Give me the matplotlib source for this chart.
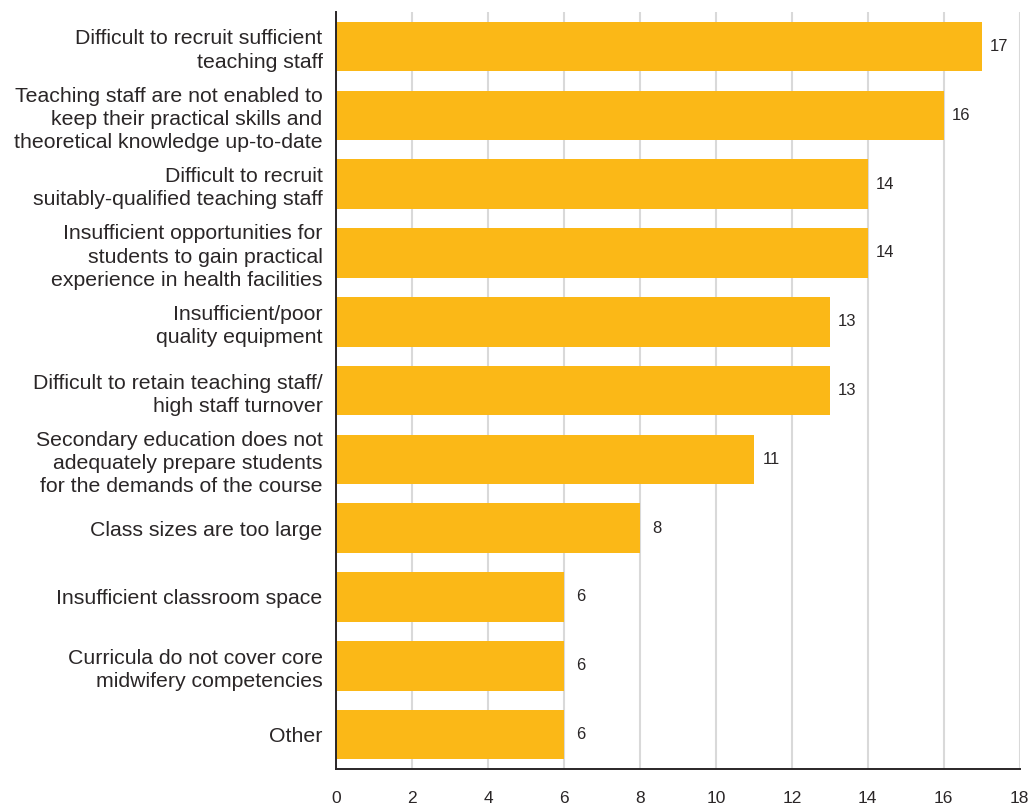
import matplotlib.pyplot as plt
import numpy as np

plt.rcParams['font.family'] = ['Liberation Sans', 'DejaVu Sans']

TEXT = '#2a2627'
BAR = '#fbb817'
GRID = '#d9d9d9'

categories = [
    "Difficult to recruit sufficient\nteaching staff",
    "Teaching staff are not enabled to\nkeep their practical skills and\ntheoretical knowledge up-to-date",
    "Difficult to recruit\nsuitably-qualified teaching staff",
    "Insufficient opportunities for\nstudents to gain practical\nexperience in health facilities",
    "Insufficient/poor\nquality equipment",
    "Difficult to retain teaching staff/\nhigh staff turnover",
    "Secondary education does not\nadequately prepare students\nfor the demands of the course",
    "Class sizes are too large",
    "Insufficient classroom space",
    "Curricula do not cover core\nmidwifery competencies",
    "Other",
]
counts = [17, 16, 14, 14, 13, 13, 11, 8, 6, 6, 6]
x_ticks = list(range(0, 19, 2))

fig = plt.figure(figsize=(10.32, 8.05), dpi=100)
ax = fig.add_axes([0.326, 0.0447, 0.662, 0.9403])

y = np.arange(len(categories))
ax.barh(y, counts, height=0.72, color=BAR, zorder=2)

# value labels centred a little past the end of each bar
for yi, v in zip(y, counts):
    ax.text(v + 0.45, yi, str(v), va='center', ha='center', fontsize=12, color=TEXT)

ax.set_xlim(0, 18)
ax.set_ylim(len(categories) - 0.5, -0.5)
ax.set_xticks(x_ticks)
ax.set_xticklabels([str(t) for t in x_ticks], fontsize=12.5, color=TEXT)
ax.set_yticks(y)
ax.set_yticklabels(categories, fontsize=15.3, color=TEXT, linespacing=1.28)
ax.tick_params(axis='x', length=0, pad=16)
ax.tick_params(axis='y', length=0, pad=10)

ax.grid(axis='x', color=GRID, linewidth=1.5, zorder=0)
ax.set_axisbelow(True)
for side in ['top', 'right']:
    ax.spines[side].set_visible(False)
for side in ['left', 'bottom']:
    ax.spines[side].set_color(TEXT)
    ax.spines[side].set_linewidth(1.4)
    ax.spines[side].set_zorder(3)

fig.savefig('out.png', dpi=100)
